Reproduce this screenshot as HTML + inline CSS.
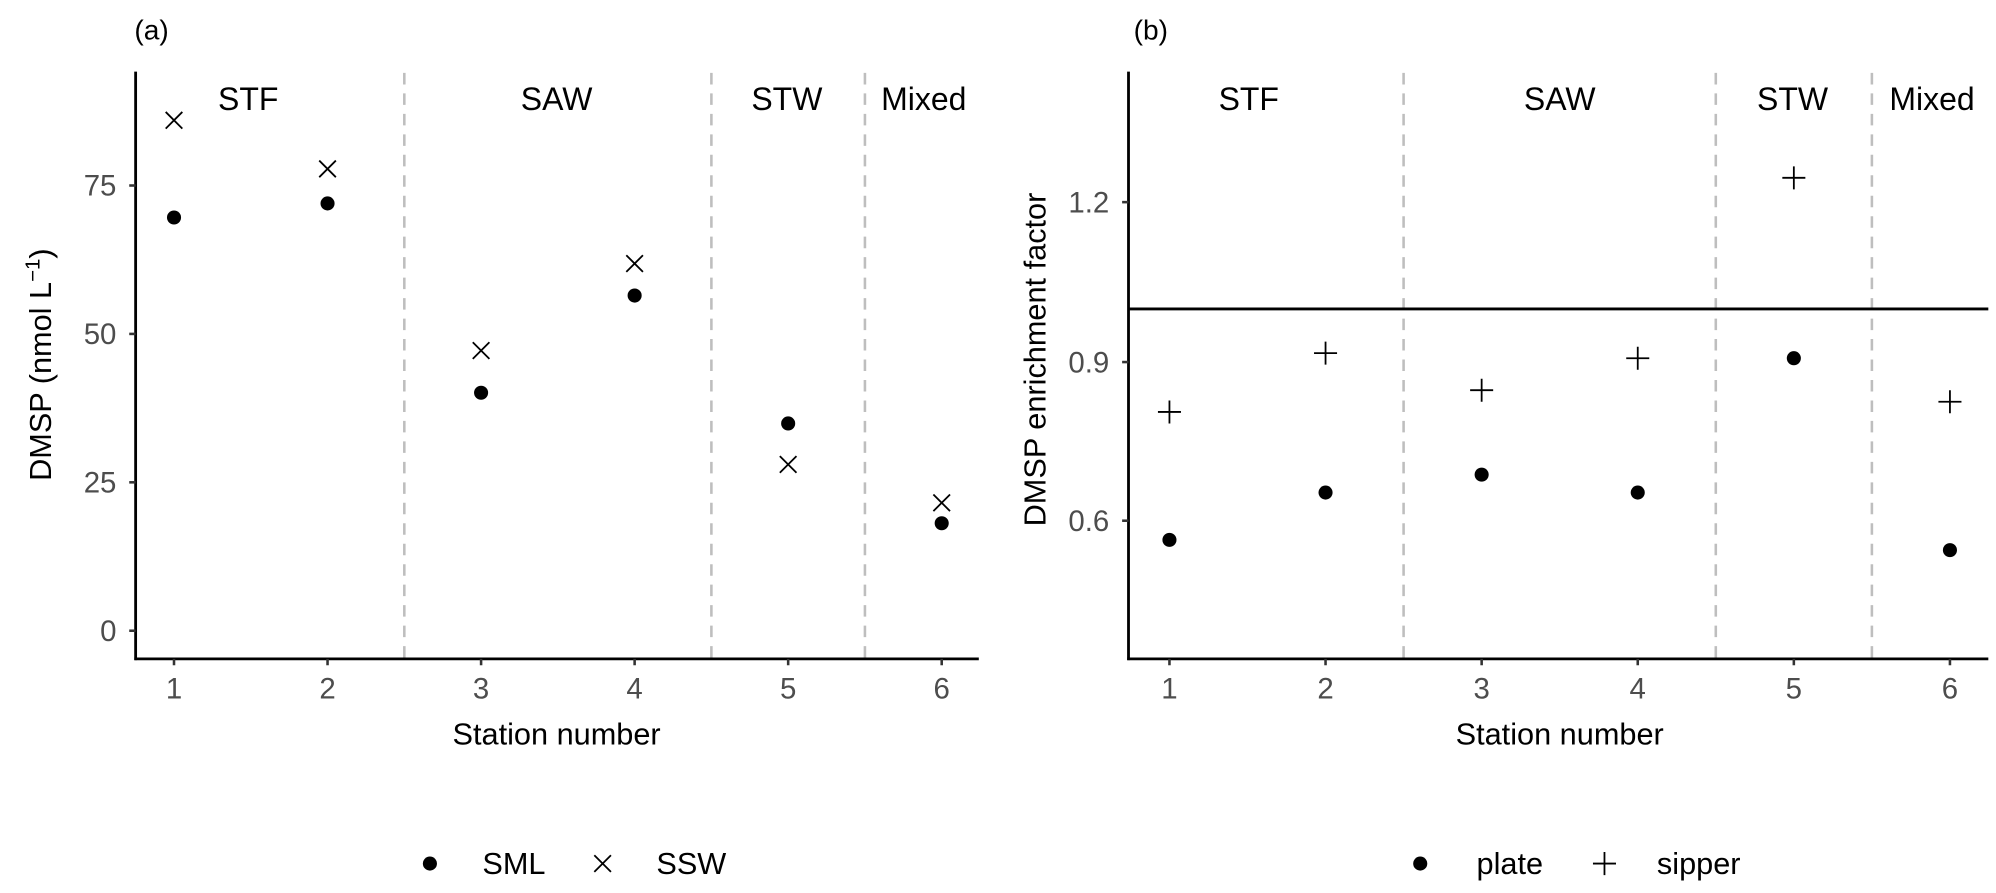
<!DOCTYPE html>
<html><head><meta charset="utf-8"><style>html,body{margin:0;padding:0;background:#fff}svg{display:block}</style></head>
<body>
<svg width="1996" height="893" viewBox="0 0 1560 698" preserveAspectRatio="none" xmlns="http://www.w3.org/2000/svg" font-family="Liberation Sans, Arial, sans-serif">
<defs>
<g id="x"><path d="M-6.5,-6.5L6.5,6.5M-6.5,6.5L6.5,-6.5" stroke="#000" stroke-width="1.4"/></g>
<g id="p"><path d="M-9,0L9,0M0,-9L0,9" stroke="#000" stroke-width="1.4"/></g>
</defs>
<!-- Panel a -->
<text x="105" y="31" font-size="22">(a)</text>
<g stroke="#bebebe" stroke-width="2" stroke-dasharray="9,7">
<line x1="316" y1="57" x2="316" y2="515"/><line x1="556" y1="57" x2="556" y2="515"/><line x1="676" y1="57" x2="676" y2="515"/>
</g>
<line x1="106" y1="56" x2="106" y2="516" stroke="#000" stroke-width="2.2"/>
<line x1="105" y1="515" x2="765" y2="515" stroke="#000" stroke-width="2.2"/>
<g stroke="#333" stroke-width="2">
<line x1="101" y1="493" x2="106" y2="493"/><line x1="101" y1="377" x2="106" y2="377"/><line x1="101" y1="261" x2="106" y2="261"/><line x1="101" y1="145" x2="106" y2="145"/>
<line x1="136" y1="515" x2="136" y2="520"/><line x1="256" y1="515" x2="256" y2="520"/><line x1="376" y1="515" x2="376" y2="520"/><line x1="496" y1="515" x2="496" y2="520"/><line x1="616" y1="515" x2="616" y2="520"/><line x1="736" y1="515" x2="736" y2="520"/>
</g>
<g font-size="23" fill="#4d4d4d" text-anchor="end">
<text x="91" y="501">0</text><text x="91" y="385">25</text><text x="91" y="269">50</text><text x="91" y="153">75</text>
</g>
<g font-size="23" fill="#4d4d4d" text-anchor="middle">
<text x="136" y="546">1</text><text x="256" y="546">2</text><text x="376" y="546">3</text><text x="496" y="546">4</text><text x="616" y="546">5</text><text x="736" y="546">6</text>
</g>
<text x="435" y="582" font-size="24" text-anchor="middle">Station number</text>
<text transform="translate(40,285) rotate(-90)" font-size="24" text-anchor="middle">DMSP (nmol L<tspan dy="-9" font-size="16">−1</tspan><tspan dy="9">)</tspan></text>
<g font-size="25" text-anchor="middle">
<text x="194" y="86">STF</text><text x="435" y="86">SAW</text><text x="615" y="86">STW</text><text x="722" y="86">Mixed</text>
</g>
<g fill="#000">
<circle cx="136" cy="170" r="5.5"/><circle cx="256" cy="159" r="5.5"/><circle cx="376" cy="307" r="5.5"/><circle cx="496" cy="231" r="5.5"/><circle cx="616" cy="331" r="5.5"/><circle cx="736" cy="409" r="5.5"/>
</g>
<use href="#x" x="136" y="94"/><use href="#x" x="256" y="132"/><use href="#x" x="376" y="274"/><use href="#x" x="496" y="206"/><use href="#x" x="616" y="363"/><use href="#x" x="736" y="393"/>
<circle cx="336" cy="675" r="5.5"/><text x="377" y="683" font-size="24">SML</text>
<use href="#x" x="471" y="675"/><text x="513" y="683" font-size="24">SSW</text>

<!-- Panel b -->
<text x="886" y="31" font-size="22">(b)</text>
<g stroke="#bebebe" stroke-width="2" stroke-dasharray="9,7">
<line x1="1097" y1="57" x2="1097" y2="515"/><line x1="1341" y1="57" x2="1341" y2="515"/><line x1="1463" y1="57" x2="1463" y2="515"/>
</g>
<line x1="882" y1="241.5" x2="1554" y2="241.5" stroke="#000" stroke-width="2.2"/>
<line x1="882" y1="56" x2="882" y2="516" stroke="#000" stroke-width="2.2"/>
<line x1="881" y1="515" x2="1554" y2="515" stroke="#000" stroke-width="2.2"/>
<g stroke="#333" stroke-width="2">
<line x1="877" y1="158" x2="882" y2="158"/><line x1="877" y1="283" x2="882" y2="283"/><line x1="877" y1="407" x2="882" y2="407"/>
<line x1="914" y1="515" x2="914" y2="520"/><line x1="1036" y1="515" x2="1036" y2="520"/><line x1="1158" y1="515" x2="1158" y2="520"/><line x1="1280" y1="515" x2="1280" y2="520"/><line x1="1402" y1="515" x2="1402" y2="520"/><line x1="1524" y1="515" x2="1524" y2="520"/>
</g>
<g font-size="23" fill="#4d4d4d" text-anchor="end">
<text x="867" y="166">1.2</text><text x="867" y="291">0.9</text><text x="867" y="415">0.6</text>
</g>
<g font-size="23" fill="#4d4d4d" text-anchor="middle">
<text x="914" y="546">1</text><text x="1036" y="546">2</text><text x="1158" y="546">3</text><text x="1280" y="546">4</text><text x="1402" y="546">5</text><text x="1524" y="546">6</text>
</g>
<text x="1219" y="582" font-size="24" text-anchor="middle">Station number</text>
<text transform="translate(817,281) rotate(-90)" font-size="24" text-anchor="middle">DMSP enrichment factor</text>
<g font-size="25" text-anchor="middle">
<text x="976" y="86">STF</text><text x="1219" y="86">SAW</text><text x="1401" y="86">STW</text><text x="1510" y="86">Mixed</text>
</g>
<g fill="#000">
<circle cx="914" cy="422" r="5.5"/><circle cx="1036" cy="385" r="5.5"/><circle cx="1158" cy="371" r="5.5"/><circle cx="1280" cy="385" r="5.5"/><circle cx="1402" cy="280" r="5.5"/><circle cx="1524" cy="430" r="5.5"/>
</g>
<use href="#p" x="914" y="322"/><use href="#p" x="1036" y="276"/><use href="#p" x="1158" y="305"/><use href="#p" x="1280" y="280"/><use href="#p" x="1402" y="139"/><use href="#p" x="1524" y="314"/>
<circle cx="1110" cy="675" r="5.5"/><text x="1154" y="683" font-size="24">plate</text>
<use href="#p" x="1254" y="675"/><text x="1295" y="683" font-size="24">sipper</text>
</svg>
</body></html>
